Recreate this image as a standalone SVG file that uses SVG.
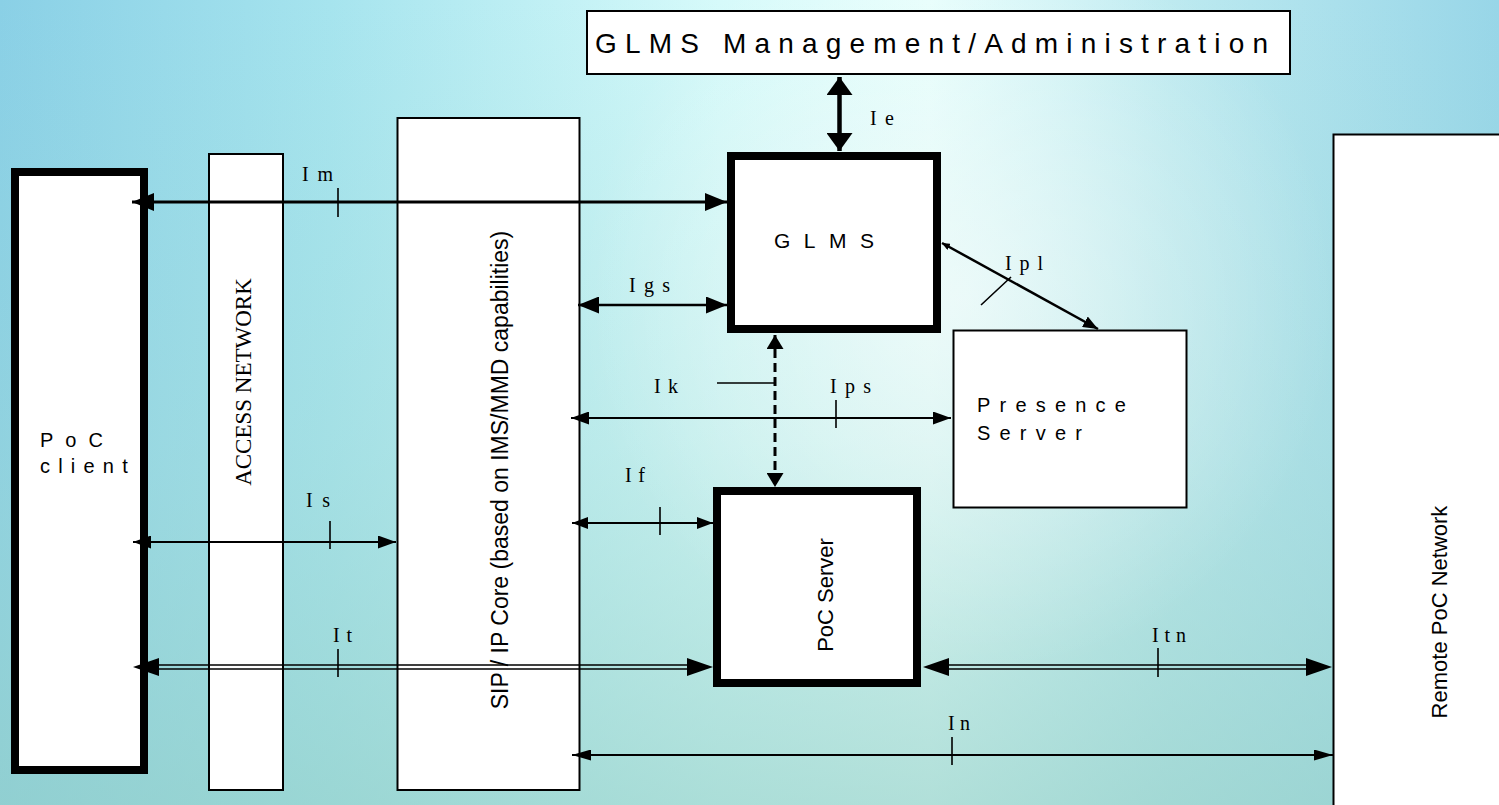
<svg xmlns="http://www.w3.org/2000/svg" width="1499" height="805" viewBox="0 0 1499 805">
<defs>
<linearGradient id="bgx" x1="0" y1="0" x2="1" y2="0">
<stop offset="0" stop-color="#8ad0e6"/>
<stop offset="0.22" stop-color="#a6e4ee"/>
<stop offset="0.48" stop-color="#d6fafa"/>
<stop offset="0.62" stop-color="#e6fefc"/>
<stop offset="0.78" stop-color="#bdeaf0"/>
<stop offset="1" stop-color="#98d6e8"/>
</linearGradient>
<linearGradient id="bgy" x1="0" y1="0" x2="0" y2="1">
<stop offset="0" stop-color="#9fd8d2" stop-opacity="0"/>
<stop offset="0.55" stop-color="#9fd6cf" stop-opacity="0.3"/>
<stop offset="1" stop-color="#94cfc6" stop-opacity="0.65"/>
</linearGradient>
<radialGradient id="glow" cx="960" cy="300" r="380" gradientUnits="userSpaceOnUse">
<stop offset="0" stop-color="#ffffff" stop-opacity="0.55"/>
<stop offset="1" stop-color="#ffffff" stop-opacity="0"/>
</radialGradient>
<marker id="aIe" markerUnits="userSpaceOnUse" markerWidth="18" markerHeight="26" refX="18" refY="13" orient="auto-start-reverse"><path d="M0,0 L18,13 L0,26 z" fill="#000"/></marker>
<marker id="aIm" markerUnits="userSpaceOnUse" markerWidth="22" markerHeight="18" refX="22" refY="9" orient="auto-start-reverse"><path d="M0,0 L22,9 L0,18 z" fill="#000"/></marker>
<marker id="aIgs" markerUnits="userSpaceOnUse" markerWidth="21" markerHeight="17" refX="21" refY="8.5" orient="auto-start-reverse"><path d="M0,0 L21,8.5 L0,17 z" fill="#000"/></marker>
<marker id="aSm" markerUnits="userSpaceOnUse" markerWidth="18" markerHeight="13" refX="18" refY="6.5" orient="auto-start-reverse"><path d="M0,0 L18,6.5 L0,13 z" fill="#000"/></marker>
<marker id="aIf" markerUnits="userSpaceOnUse" markerWidth="16" markerHeight="12" refX="16" refY="6" orient="auto-start-reverse"><path d="M0,0 L16,6 L0,12 z" fill="#000"/></marker>
<marker id="aIn" markerUnits="userSpaceOnUse" markerWidth="19" markerHeight="11" refX="19" refY="5.5" orient="auto-start-reverse"><path d="M0,0 L19,5.5 L0,11 z" fill="#000"/></marker>
<marker id="aIt" markerUnits="userSpaceOnUse" markerWidth="26" markerHeight="18" refX="26" refY="9" orient="auto-start-reverse"><path d="M0,0 L26,9 L0,18 z" fill="#000"/></marker>
<marker id="aIk" markerUnits="userSpaceOnUse" markerWidth="14" markerHeight="17" refX="14" refY="8.5" orient="auto-start-reverse"><path d="M0,0 L14,8.5 L0,17 z" fill="#000"/></marker>
<marker id="aIpl" markerUnits="userSpaceOnUse" markerWidth="15" markerHeight="12" refX="15" refY="6" orient="auto"><path d="M0,0 L15,6 L0,12 z" fill="#000"/></marker>
<marker id="aIplS" markerUnits="userSpaceOnUse" markerWidth="8" markerHeight="7" refX="0" refY="3.5" orient="auto"><path d="M8,0 L0,3.5 L8,7 z" fill="#000"/></marker>
</defs>
<style>
.thin{fill:#fff;stroke:#000;stroke-width:2}
.thick{fill:#fff;stroke:#000;stroke-width:8}
.sans{font-family:"Liberation Sans",Arial,sans-serif;fill:#000}
.lbl{font-family:"Liberation Serif","Times New Roman",serif;font-size:20px;fill:#000}
.ln{fill:none;stroke:#000}
.tick{fill:none;stroke:#000;stroke-width:1.6}
</style>
<rect x="0" y="0" width="1499" height="805" fill="url(#bgx)"/>
<rect x="0" y="0" width="1499" height="805" fill="url(#bgy)"/>
<rect x="0" y="0" width="1499" height="805" fill="url(#glow)"/>

<g id="poc-client">
<rect class="thick" x="15" y="172" width="129" height="598"/>
<text class="sans" x="40" y="447" font-size="20" letter-spacing="12">PoC</text>
<text class="sans" x="40" y="473" font-size="20" letter-spacing="8.2">client</text>
</g>
<g id="access-network">
<rect class="thin" x="209" y="154" width="74" height="636"/>
<text font-family="Liberation Serif, Times New Roman, serif" font-size="23" text-anchor="middle" transform="translate(251,382) rotate(-90)">ACCESS NETWORK</text>
</g>
<g id="sip-core">
<rect class="thin" x="397.5" y="118" width="182" height="672"/>
<text class="sans" font-size="23" text-anchor="middle" transform="translate(508,470) rotate(-90)">SIP / IP Core (based on IMS/MMD capabilities)</text>
</g>
<g id="glms-mgmt">
<rect class="thin" x="587" y="11" width="703" height="63"/>
<text class="sans" x="595" y="53" font-size="28" textLength="673" lengthAdjust="spacing">GLMS Management/Administration</text>
</g>
<g id="glms">
<rect class="thick" x="731" y="156" width="206" height="173"/>
<text class="sans" x="774" y="248" font-size="21" textLength="100" lengthAdjust="spacing">GLMS</text>
</g>
<g id="presence-server">
<rect class="thin" x="953.5" y="330.5" width="233" height="177"/>
<text class="sans" x="977" y="412" font-size="20" letter-spacing="9.2">Presence</text>
<text class="sans" x="977" y="440" font-size="20" letter-spacing="9.2">Server</text>
</g>
<g id="poc-server">
<rect class="thick" x="717" y="491" width="200" height="192"/>
<text class="sans" font-size="22" text-anchor="middle" transform="translate(833,595) rotate(-90)">PoC Server</text>
</g>
<g id="remote-poc">
<rect class="thin" x="1333.5" y="134.5" width="200" height="700"/>
<text class="sans" font-size="22" text-anchor="middle" transform="translate(1447,612) rotate(-90)">Remote PoC Network</text>
</g>

<g id="connectors">
<path class="ln" d="M839.5,77 V151" stroke-width="4.5" marker-start="url(#aIe)" marker-end="url(#aIe)"/>
<path class="ln" d="M132,202 H727" stroke-width="3" marker-start="url(#aIm)" marker-end="url(#aIm)"/>
<path class="ln" d="M578,305 H727" stroke-width="2.5" marker-start="url(#aIgs)" marker-end="url(#aIgs)"/>
<path class="ln" d="M775,335 V487" stroke-width="3" stroke-dasharray="9 5" marker-start="url(#aIk)" marker-end="url(#aIk)"/>
<path class="ln" d="M571,418 H951" stroke-width="2" marker-start="url(#aSm)" marker-end="url(#aSm)"/>
<path class="ln" d="M942,243 L1098,329" stroke-width="2.5" marker-start="url(#aIplS)" marker-end="url(#aIpl)"/>
<path class="ln" d="M572,523 H713" stroke-width="2" marker-start="url(#aIf)" marker-end="url(#aIf)"/>
<path class="ln" d="M133,542 H396" stroke-width="2" marker-start="url(#aSm)" marker-end="url(#aSm)"/>
<path class="ln" d="M150,665 H695 M150,669 H695" stroke-width="1.6"/>
<path d="M133,667 H713" fill="none" stroke="none" marker-start="url(#aIt)" marker-end="url(#aIt)"/>
<path class="ln" d="M940,665 H1310 M940,669 H1310" stroke-width="1.6"/>
<path d="M923,667 H1332" fill="none" stroke="none" marker-start="url(#aIt)" marker-end="url(#aIt)"/>
<path class="ln" d="M572,755 H1333" stroke-width="2" marker-start="url(#aIn)" marker-end="url(#aIn)"/>
<path class="tick" d="M338,188 V217 M836,400 V428 M660,507 V535 M330,521 V549 M338,649 V677 M1158,648 V677 M952,737 V765 M981,305 L1011,277 M717,383 H775"/>
<text class="lbl" x="302" y="181" textLength="31" lengthAdjust="spacing">Im</text>
<text class="lbl" x="870" y="125" textLength="24" lengthAdjust="spacing">Ie</text>
<text class="lbl" x="629" y="292" textLength="41" lengthAdjust="spacing">Igs</text>
<text class="lbl" x="654" y="393" textLength="24" lengthAdjust="spacing">Ik</text>
<text class="lbl" x="830" y="393" textLength="41" lengthAdjust="spacing">Ips</text>
<text class="lbl" x="1005" y="270" textLength="38" lengthAdjust="spacing">Ipl</text>
<text class="lbl" x="625" y="482" textLength="20" lengthAdjust="spacing">If</text>
<text class="lbl" x="306" y="507" textLength="24" lengthAdjust="spacing">Is</text>
<text class="lbl" x="333" y="642" textLength="19" lengthAdjust="spacing">It</text>
<text class="lbl" x="1152" y="642" textLength="34" lengthAdjust="spacing">Itn</text>
<text class="lbl" x="948" y="730" textLength="22" lengthAdjust="spacing">In</text>
</g>
</svg>
